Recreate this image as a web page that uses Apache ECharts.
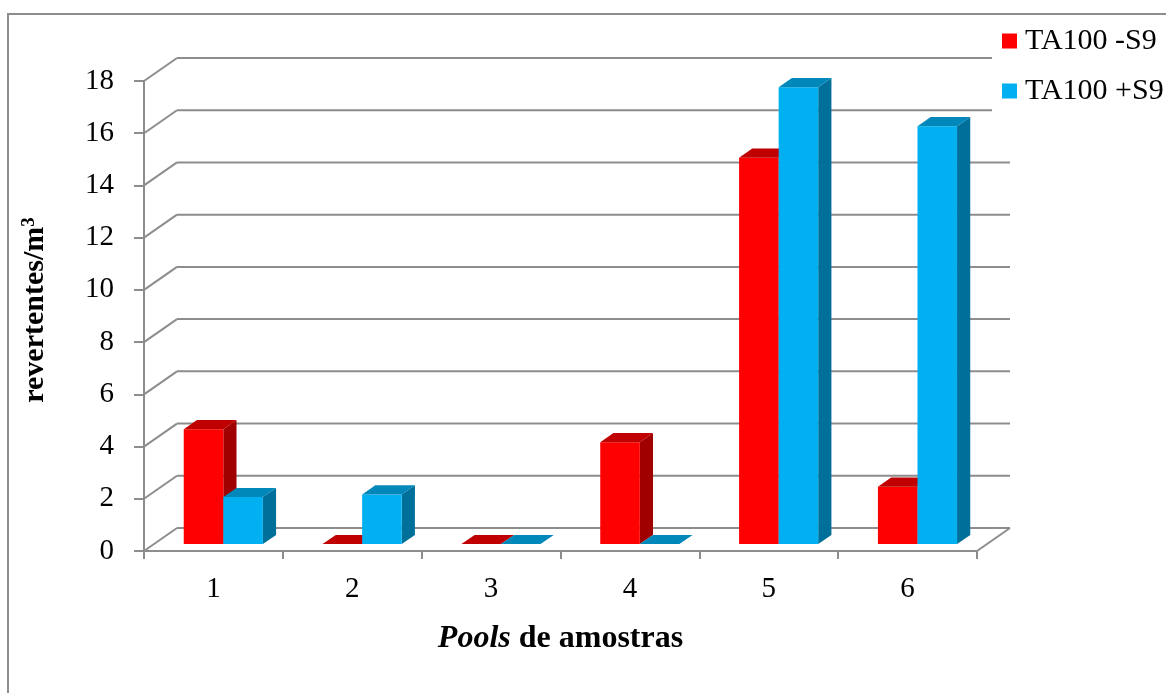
<!DOCTYPE html>
<html>
<head>
<meta charset="utf-8">
<script src="https://cdn.jsdelivr.net/npm/echarts@6/dist/echarts.min.js"></script>
<style>
  html, body { margin: 0; padding: 0; background: #fff; }
  #chart { width: 1166px; height: 693px; }
</style>
</head>
<body>
<div id="chart"></div>
<script>
// Revertants per m3 for each pool of samples, strain TA100 without / with S9
const categories = ['1', '2', '3', '4', '5', '6'];
const seriesNames = ['TA100 -S9', 'TA100 +S9'];
const minusS9 = [4.4, 0, 0, 3.9, 14.8, 2.2];
const plusS9 = [1.8, 1.9, 0, 0, 17.5, 16.0];
const yTicks = [0, 2, 4, 6, 8, 10, 12, 14, 16, 18];

// Oblique projection of the box: back wall offset and bar placement in depth
const DEPTH = [33, -23];
const BAR_FRONT = 0.3;
const BAR_DEPTH = 0.4;
const BAR_WIDTH = 0.285;
const LINE = '#8d8d8d';
const FONT = 'Liberation Serif';

const faces = [
  { front: '#ff0000', top: '#c00000', side: '#a00000' },
  { front: '#00b0f0', top: '#0088bb', side: '#006f99' }
];

// side = -1 : bar left of category centre, +1 : right of it
function barRenderer(side, f) {
  return function (params, api) {
    const idx = api.value(0);
    const v = api.value(1);
    const band = api.size([1, 0])[0];
    const w = band * BAR_WIDTH;
    const top = api.coord([idx, v]);
    const base = api.coord([idx, 0]);
    const ox = DEPTH[0] * BAR_FRONT, oy = DEPTH[1] * BAR_FRONT;
    const dx = DEPTH[0] * BAR_DEPTH, dy = DEPTH[1] * BAR_DEPTH;
    const x0 = top[0] + ox + (side < 0 ? -w : 0);
    const x1 = x0 + w;
    const yt = top[1] + oy;
    const yb = base[1] + oy;
    return {
      type: 'group',
      children: [
        { type: 'polygon', shape: { points: [[x1, yt], [x1 + dx, yt + dy], [x1 + dx, yb + dy], [x1, yb]] }, style: { fill: f.side } },
        { type: 'rect', shape: { x: x0, y: yt, width: w, height: yb - yt }, style: { fill: f.front } },
        { type: 'polygon', shape: { points: [[x0, yt], [x1, yt], [x1 + dx, yt + dy], [x0 + dx, yt + dy]] }, style: { fill: f.top } }
      ]
    };
  };
}

// Back-wall gridlines with their receding edges on the left side
function wallRenderer(params, api) {
  const cs = params.coordSys;
  const v = api.value(1);
  const y = api.coord([0, v])[1];
  const L = cs.x, R = cs.x + cs.width;
  const st = { stroke: LINE, lineWidth: 2 };
  const children = [
    { type: 'line', shape: { x1: L, y1: y, x2: L + DEPTH[0], y2: y + DEPTH[1] }, style: st },
    { type: 'line', shape: { x1: L + DEPTH[0], y1: y + DEPTH[1], x2: R + DEPTH[0], y2: y + DEPTH[1] }, style: st }
  ];
  if (v === 0) {
    children.push({ type: 'line', shape: { x1: R, y1: y, x2: R + DEPTH[0], y2: y + DEPTH[1] }, style: st });
  }
  return { type: 'group', children };
}

const chart = echarts.init(document.getElementById('chart'), null, { renderer: 'canvas' });

chart.setOption({
  animation: false,
  backgroundColor: '#fff',
  graphic: [{
    type: 'rect', z: 0, silent: true,
    shape: { x: 8, y: 14, width: 1200, height: 720 },
    style: { fill: 'none', stroke: LINE, lineWidth: 2 }
  }],
  grid: { left: 144, top: 81, width: 833, height: 470, containLabel: false, outerBoundsMode: 'none' },
  legend: {
    data: seriesNames,
    orient: 'vertical',
    left: 992, top: 16,
    padding: [10, 12, 12, 10],
    backgroundColor: '#fff',
    icon: 'rect',
    itemWidth: 15, itemHeight: 15,
    itemGap: 20,
    textStyle: { fontFamily: FONT, fontSize: 30, lineHeight: 30, color: '#000', padding: [0, 0, 0, 3] }
  },
  xAxis: {
    type: 'category',
    data: categories,
    boundaryGap: true,
    axisLine: { show: true, lineStyle: { color: LINE, width: 2 } },
    axisTick: { show: true, interval: 0, length: 8, lineStyle: { color: LINE, width: 2 } },
    axisLabel: { margin: 24, fontFamily: FONT, fontSize: 29, color: '#000' },
    splitLine: { show: false },
    name: '{i|Pools} de amostras',
    nameLocation: 'middle',
    nameGap: 72,
    nameTextStyle: {
      fontFamily: FONT, fontSize: 32, fontWeight: 'bold', color: '#000',
      rich: { i: { fontFamily: FONT, fontSize: 32, fontWeight: 'bold', fontStyle: 'italic', color: '#000' } }
    }
  },
  yAxis: {
    type: 'value',
    min: 0, max: 18, interval: 2,
    axisLine: { show: true, lineStyle: { color: LINE, width: 2 } },
    axisTick: { show: true, length: 10, lineStyle: { color: LINE, width: 2 } },
    axisLabel: { margin: 30, fontFamily: FONT, fontSize: 29, color: '#000' },
    splitLine: { show: false },
    name: 'revertentes/m{s|3}',
    nameLocation: 'middle',
    nameRotate: 90,
    nameGap: 94,
    nameTextStyle: {
      fontFamily: FONT, fontSize: 30, fontWeight: 'bold', color: '#000',
      padding: [0, 0, 0, 12],
      rich: { s: { fontFamily: FONT, fontSize: 19, fontWeight: 'bold', color: '#000', verticalAlign: 'top' } }
    }
  },
  series: [
    {
      type: 'custom', name: 'wall', silent: true, clip: false, z: 1,
      data: yTicks.map(v => [0, v]),
      renderItem: wallRenderer
    },
    {
      type: 'custom', name: seriesNames[0], clip: false, z: 2,
      itemStyle: { color: faces[0].front },
      data: minusS9.map((v, i) => [i, v]),
      renderItem: barRenderer(-1, faces[0])
    },
    {
      type: 'custom', name: seriesNames[1], clip: false, z: 2,
      itemStyle: { color: faces[1].front },
      data: plusS9.map((v, i) => [i, v]),
      renderItem: barRenderer(1, faces[1])
    }
  ]
});
</script>
</body>
</html>
